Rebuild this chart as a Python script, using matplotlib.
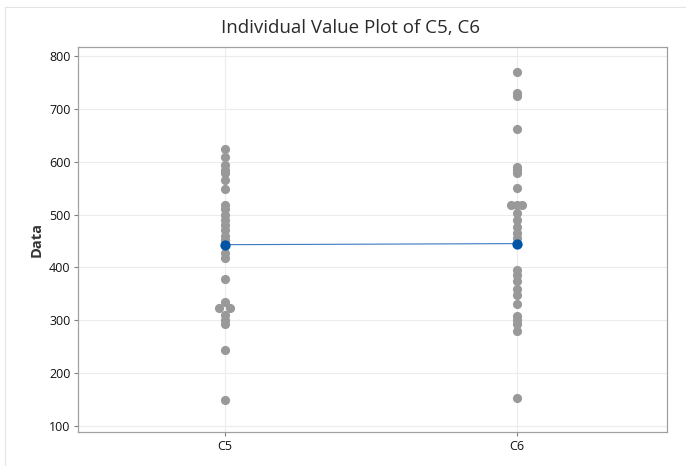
import matplotlib
matplotlib.use("Agg")
import matplotlib.pyplot as plt
from matplotlib.lines import Line2D

categories = ["C5", "C6"]
c5_values = [624, 609, 594, 585, 578, 566, 548, 518, 510, 500, 490, 480, 470,
             460, 452, 427, 418, 378, 335, 323, 323, 310, 300, 293, 243, 149]
c5_offsets = [0, 0, 0, 0, 0, 0, 0, 0, 0, 0, 0, 0, 0,
              0, 0, 0, 0, 0, 0, -1, 1, 0, 0, 0, 0, 0]
c6_values = [770, 730, 724, 662, 590, 584, 578, 550, 518, 518, 518, 503, 490,
             477, 465, 456, 395, 385, 375, 360, 347, 330, 308, 300, 292, 280, 153]
c6_offsets = [0, 0, 0, 0, 0, 0, 0, 0, -1, 0, 1, 0, 0,
              0, 0, 0, 0, 0, 0, 0, 0, 0, 0, 0, 0, 0, 0]
means = [443, 445]
yticks = [100, 200, 300, 400, 500, 600, 700, 800]

plt.rcParams['font.family'] = ['Open Sans', 'DejaVu Sans']

fig = plt.figure(figsize=(6.86, 4.66), dpi=100)
ax = fig.add_axes([78/686, 1-432/466, (667-78)/686, (432-47)/466])

# outer light frame (screenshot border)
fig.add_artist(Line2D([5/686, 5/686], [0, 1-7/466], transform=fig.transFigure,
                      color="#e4e4e4", lw=0.8))
fig.add_artist(Line2D([5/686, 1], [1-7/466, 1-7/466], transform=fig.transFigure,
                      color="#e4e4e4", lw=0.8))

dx = 0.019
point_color = "#999999"
for i, (vals, offs) in enumerate([(c5_values, c5_offsets), (c6_values, c6_offsets)]):
    xs = [i + o * dx for o in offs]
    ax.plot(xs, vals, linestyle="none", marker="o", markersize=6.6,
            color=point_color, markeredgewidth=0, zorder=3)

ax.plot([0, 1], means, color="#3a78c0", lw=0.8, zorder=4)
ax.plot([0, 1], means, linestyle="none", marker="o", markersize=7.4,
        color="#0054a6", markeredgewidth=0, zorder=5)

ax.set_xlim(-0.503, 1.514)
ax.set_ylim(88.6, 817)
ax.set_xticks([0, 1])
ax.set_xticklabels(categories)
ax.set_yticks(yticks)

ax.grid(True, color="#ececec", lw=0.8)
ax.set_axisbelow(True)
for s in ax.spines.values():
    s.set_color("#a0a0a0")
    s.set_linewidth(0.9)
ax.tick_params(axis="both", colors="#808080", labelcolor="#111111",
               labelsize=9, length=3, width=0.8, pad=2.5)

ax.set_ylabel("Data", fontsize=10.5, color="#333333", fontweight="bold", labelpad=4)
fig.text(351/686, 1-28/466, "Individual Value Plot of C5, C6", ha="center", va="center",
         fontsize=13.5, color="#2a2a2a")

fig.savefig("out.png", dpi=100)
